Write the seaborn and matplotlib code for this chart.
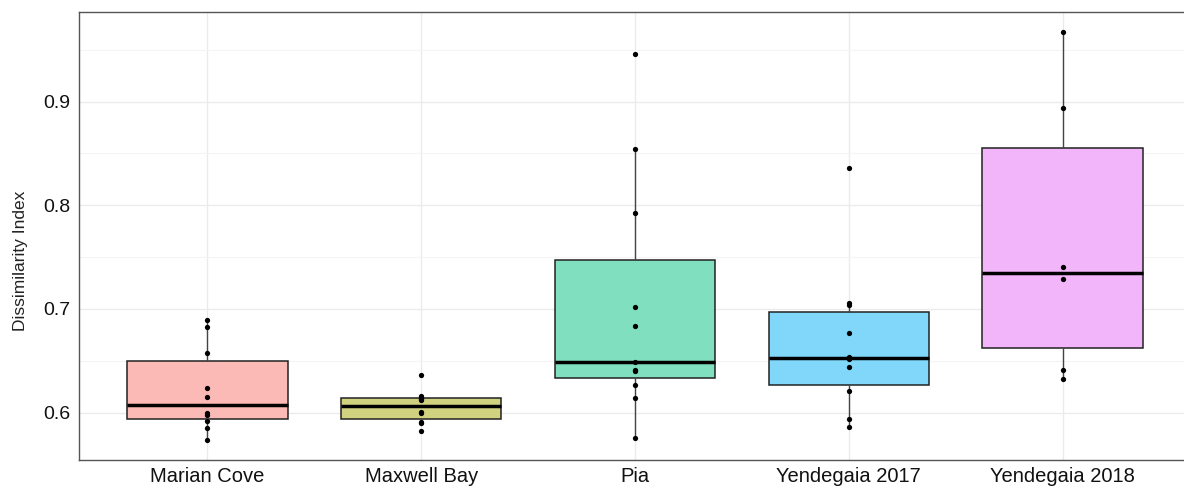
import numpy as np
import pandas as pd
import matplotlib
matplotlib.use('Agg')
import matplotlib.pyplot as plt
from matplotlib.ticker import MultipleLocator
import seaborn as sns

sites = ['Marian Cove', 'Maxwell Bay', 'Pia', 'Yendegaia 2017', 'Yendegaia 2018']
colors = ['#FBBAB6', '#D1D280', '#80DFBE', '#80D7FA', '#F3B5F9']

marian_cove = [0.574, 0.585, 0.592, 0.598, 0.600, 0.615, 0.624, 0.658, 0.683, 0.689]
maxwell_bay = [0.582, 0.590, 0.5915, 0.600, 0.601, 0.612, 0.613, 0.6145, 0.6157, 0.6365]
pia = [0.5757, 0.614, 0.627, 0.6404, 0.641, 0.6493, 0.6837, 0.702, 0.793, 0.8545, 0.946]
yendegaia_2017 = [0.5859, 0.5942, 0.6214, 0.6436, 0.6516, 0.6541, 0.6766, 0.7038, 0.706, 0.836]
yendegaia_2018 = [0.6324, 0.6407, 0.7288, 0.740, 0.8936, 0.9667]

values = [marian_cove, maxwell_bay, pia, yendegaia_2017, yendegaia_2018]
df = pd.DataFrame({
    'site': np.repeat(sites, [len(v) for v in values]),
    'value': np.concatenate(values),
})

sns.set_theme(style='white')
plt.rcParams['font.family'] = ['Liberation Sans', 'DejaVu Sans']

fig = plt.figure(figsize=(11.84, 4.86), dpi=100)
ax = fig.add_axes([79 / 1184, 1 - 460 / 486, 1112 / 1184, 448 / 486])

box_kw = dict(x='site', y='value', order=sites, hue='site', hue_order=sites,
              palette=colors, saturation=1, legend=False, width=0.75,
              linecolor='#222222', linewidth=1.1, showfliers=False, showcaps=False,
              medianprops=dict(color='black', linewidth=2.5),
              whiskerprops=dict(color='#444444', linewidth=1.0), ax=ax)

# Maxwell Bay is shown without whiskers in the source figure
sns.boxplot(data=df[df['site'] != 'Maxwell Bay'], **box_kw)
sns.boxplot(data=df[df['site'] == 'Maxwell Bay'], whis=0, **box_kw)

sns.stripplot(data=df, x='site', y='value', order=sites, color='black',
              jitter=False, size=3.8, ax=ax)

ax.set_axisbelow(True)
ax.yaxis.set_major_locator(MultipleLocator(0.1))
ax.yaxis.set_minor_locator(MultipleLocator(0.05))
ax.grid(which='major', axis='both', color='#EBEBEB', linewidth=1.0)
ax.grid(which='minor', axis='y', color='#F4F4F4', linewidth=0.8)

ax.set_xlim(-0.6, 4.6)
ax.set_ylim(0.5544, 0.9863)
ax.set_xlabel('')
ax.set_ylabel('Dissimilarity Index', fontsize=12.5, color='#222222')
ax.yaxis.set_label_coords(-0.046, 0.444)
ax.set_yticks([0.6, 0.7, 0.8, 0.9])
ax.set_yticklabels(['0.6', '0.7', '0.8', '0.9'])
ax.tick_params(axis='x', which='major', length=3, width=0.8, color='#444444',
               labelsize=14.5, labelcolor='#111111', pad=2)
ax.tick_params(axis='y', which='major', length=3, width=0.8, color='#444444',
               labelsize=14, labelcolor='#111111', pad=3)
ax.tick_params(axis='y', which='minor', length=0)

for side in ['left', 'bottom', 'top', 'right']:
    ax.spines[side].set_visible(True)
    ax.spines[side].set_color('#555555')
    ax.spines[side].set_linewidth(1.0)

fig.savefig('out.png', dpi=100)
